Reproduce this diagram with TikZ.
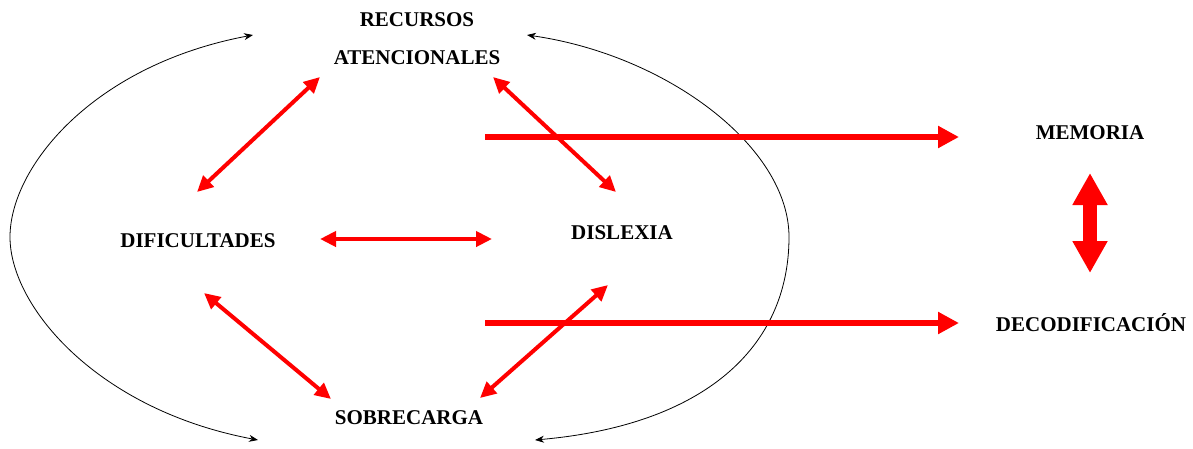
\documentclass[tikz,border=0pt]{standalone}
\usepackage{fontspec}
\setmainfont{Liberation Serif}
\usetikzlibrary{arrows.meta}
\tikzset{
  lbl/.style={font=\bfseries\fontsize{21}{38}\selectfont, inner sep=0pt, align=center},
  loop/.style={draw=black, line width=0.8pt, {Stealth[length=9pt,width=7pt]}-{Stealth[length=9pt,width=7pt]}},
  redtwo/.style={draw=red, line width=4pt, {Triangle[length=16pt,width=15pt]}-{Triangle[length=16pt,width=15pt]}},
  redlong/.style={draw=red, line width=6pt, -{Triangle[length=21pt,width=21pt]}},
  redbig/.style={draw=red, line width=14pt, {Triangle[length=32pt,width=33pt]}-{Triangle[length=32pt,width=33pt]}}
}
\begin{document}
\begin{tikzpicture}[x=1pt,y=-1pt]
\useasboundingbox (0,0) rectangle (1193,448);
% labels
\node[lbl] (rec) at (417,39) {RECURSOS\\ATENCIONALES};
\node[lbl] (dif) at (198,241) {DIFICULTADES};
\node[lbl] (dis) at (622,233) {DISLEXIA};
\node[lbl] (sob) at (409,418) {SOBRECARGA};
\node[lbl] (mem) at (1090,133) {MEMORIA};
\node[lbl] (dec) at (1091,323) {DECODIFICACIÓN};
% endpoints
\coordinate (lt) at (253,35);
\coordinate (lm) at (10,237);
\coordinate (lb) at (258,440);
\coordinate (rt) at (527,35);
\coordinate (rm) at (789,237);
\coordinate (rb) at (535,440);
\coordinate (a1) at (320,77);  \coordinate (a2) at (197,192);
\coordinate (b1) at (493,77);  \coordinate (b2) at (616,192);
\coordinate (c1) at (320,239); \coordinate (c2) at (492,239);
\coordinate (d1) at (204,293); \coordinate (d2) at (331,399);
\coordinate (e1) at (608,285); \coordinate (e2) at (480,398);
\coordinate (f1) at (485,137); \coordinate (f2) at (959,137);
\coordinate (g1) at (485,323); \coordinate (g2) at (959,323);
\coordinate (h1) at (1090,173); \coordinate (h2) at (1090,273);
% black loops
\draw[loop] (lt) .. controls (93,65) and (10,167) .. (lm) .. controls (10,307) and (98,410) .. (lb);
\draw[loop] (rt) .. controls (667,55) and (789,147) .. (rm) .. controls (789,347) and (705,425) .. (rb);
% red arrows
\draw[redtwo] (a1) -- (a2);
\draw[redtwo] (b1) -- (b2);
\draw[redtwo] (c1) -- (c2);
\draw[redtwo] (d1) -- (d2);
\draw[redtwo] (e1) -- (e2);
\draw[redlong] (f1) -- (f2);
\draw[redlong] (g1) -- (g2);
\draw[redbig] (h1) -- (h2);
\end{tikzpicture}
\end{document}
